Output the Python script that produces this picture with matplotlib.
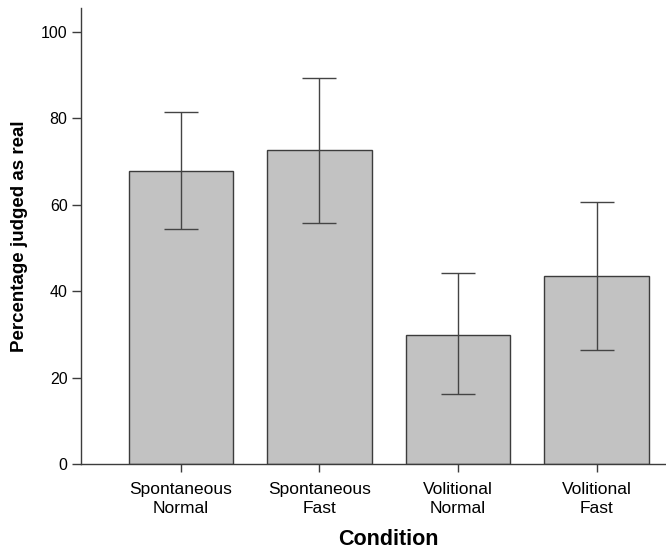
import numpy as np
import matplotlib
matplotlib.use('Agg')
import matplotlib.pyplot as plt

plt.rcParams['font.family'] = ['Liberation Sans', 'DejaVu Sans']

# Data
conditions = ['Spontaneous\nNormal', 'Spontaneous\nFast', 'Volitional\nNormal', 'Volitional\nFast']
means = [67.9, 72.6, 30.0, 43.5]
err_upper = [81.5, 89.2, 44.2, 60.6]
err_lower = [54.3, 55.9, 16.2, 26.5]

x = np.arange(len(conditions))
yerr = [np.array(means) - np.array(err_lower), np.array(err_upper) - np.array(means)]

line_col = '#3c3c3c'

fig = plt.figure(figsize=(6.66, 5.5), dpi=100)
ax = fig.add_axes([0.1212, 0.1558, 0.8788, 0.8297])

ax.bar(x, means, width=0.754, color='#c2c2c2', edgecolor=line_col, linewidth=1.0, zorder=2)
ax.errorbar(x, means, yerr=yerr, fmt='none', ecolor='#444444', elinewidth=1.0,
            capsize=12, capthick=1.0, zorder=3)

ax.set_xlim(-0.722, 3.5)
ax.set_ylim(0, 105.5)
ax.set_yticks([0, 20, 40, 60, 80, 100])
ax.set_xticks(x)
ax.set_xticklabels(conditions, fontsize=12.5, linespacing=1.3)
ax.tick_params(axis='y', labelsize=11.5, length=6.5, width=1.0, color=line_col, pad=3)
ax.tick_params(axis='x', length=6, width=1.0, color=line_col, pad=7)

for s in ['top', 'right']:
    ax.spines[s].set_visible(False)
for s in ['left', 'bottom']:
    ax.spines[s].set_color(line_col)
    ax.spines[s].set_linewidth(1.0)

ax.set_ylabel('Percentage judged as real', fontsize=13.5, fontweight='bold', labelpad=9)
ax.set_xlabel('Condition', fontsize=15.5, fontweight='bold')
ax.xaxis.set_label_coords((1.5 + 0.722) / 4.222, -0.142)

fig.savefig('out.png', dpi=100)
